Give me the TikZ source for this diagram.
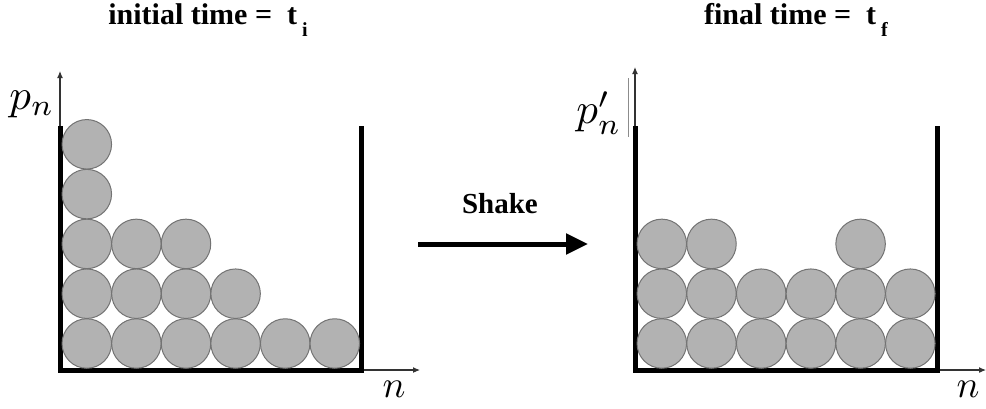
\documentclass[tikz,border=0pt]{standalone}
\usepackage{graphicx}
\usepackage{fontspec}
\setmainfont{Liberation Serif}
\usetikzlibrary{arrows.meta}
\newcommand{\bigmath}[2]{\scalebox{#1}{$#2$}}
\begin{document}
\begin{tikzpicture}[x=1pt,y=-1pt,
  ball/.style={circle,draw=black!55,line width=1pt,fill=black!30,minimum size=49.5pt,inner sep=0pt},
  wall/.style={line width=5pt,line cap=rect},
  axis/.style={line width=1.1pt,draw=black!80,-{Latex[length=7pt,width=6pt]}},
  title/.style={font=\bfseries\fontsize{30}{33}\selectfont,anchor=base},
  mlabel/.style={inner sep=0pt}]
\useasboundingbox (0,0) rectangle (986,408);
% titles
\node[title] (ti) at (208,24) {initial time =\ \ t\raisebox{-0.42em}{\fontsize{20}{22}\selectfont\ i}};
\node[title] (tf) at (796,24) {final time =\ \ t\raisebox{-0.42em}{\fontsize{20}{22}\selectfont\ f}};
% left container axes
\coordinate (lo) at (60,370);
\coordinate (ly) at (60,71);
\coordinate (lbr) at (361,370);
\coordinate (lx) at (420,370);
\draw[axis] (lo) -- (ly);
\draw[axis] (lbr) -- (lx);
\draw[wall] (60,128) -- (lo) -- (lbr) -- (361,128);
\node[mlabel] (pn) at (32,104) {\bigmath{4.3}{p_n}};
\node[mlabel] (nl) at (394,389) {\bigmath{3.8}{n}};
% left balls
\foreach \c/\h in {0/5,1/3,2/3,3/2,4/1,5/1}{
  \foreach \r in {1,...,\h}{
    \node[ball] (L-\c-\r) at ({86.8+49.6*\c},{343.5-49.8*(\r-1)}) {};
  }
}
% right container
\coordinate (ro) at (635,370);
\coordinate (ry) at (635,67);
\coordinate (rbr) at (937,370);
\coordinate (rx) at (986,370);
\draw[axis] (ro) -- (ry);
\draw[axis] (rbr) -- (rx);
\draw[wall] (635,128) -- (ro) -- (rbr) -- (937,128);
\node[mlabel] (pnp) at (599,113) {\bigmath{4.3}{p'_n}};
\draw[black!45,line width=0.8pt] (628,78) -- (628,137);
\node[mlabel] (nr) at (968,389) {\bigmath{3.8}{n}};
\foreach \c/\h in {0/3,1/3,2/2,3/2,4/3,5/2}{
  \foreach \r in {1,...,\h}{
    \node[ball] (R-\c-\r) at ({661.8+49.7*\c},{343.5-49.8*(\r-1)}) {};
  }
}
% shake arrow
\node[font=\bfseries\fontsize{29}{31}\selectfont] (shake) at (500,204) {Shake};
\coordinate (sa) at (418,244);
\coordinate (sb) at (588,244);
\draw[line width=5pt,-{Triangle[length=22pt,width=20pt]}] (sa) -- (sb);
\end{tikzpicture}
\end{document}
